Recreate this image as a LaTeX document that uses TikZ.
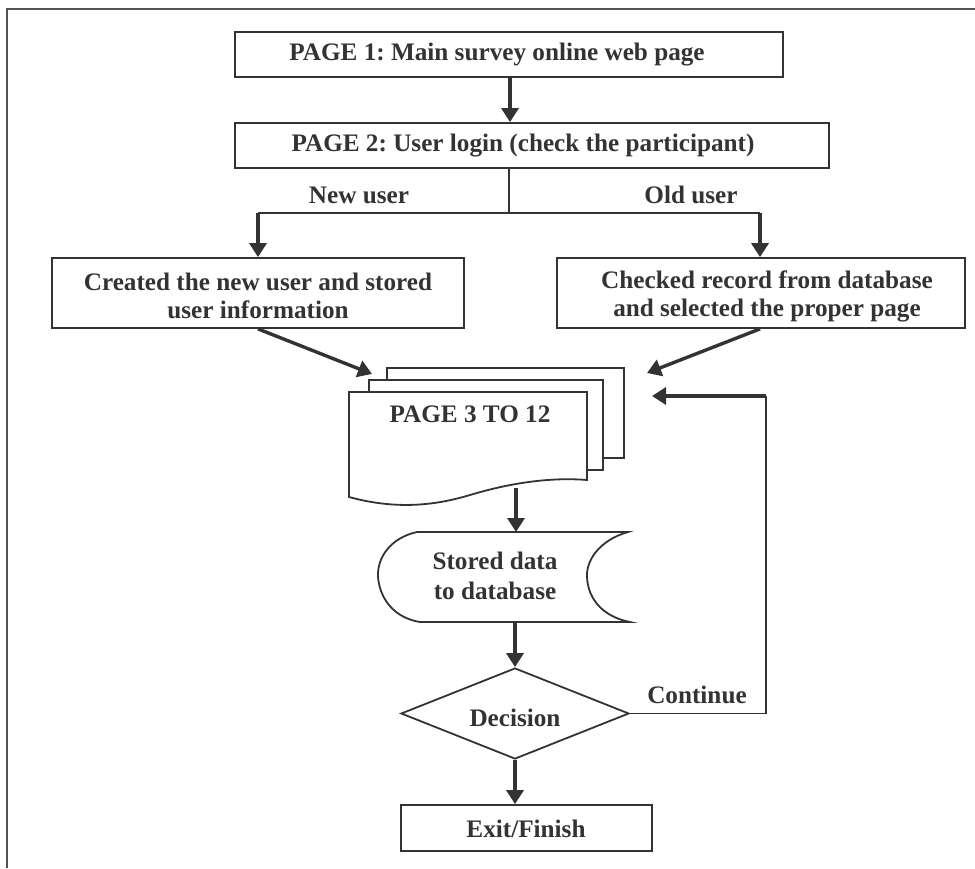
\documentclass[tikz,border=0pt]{standalone}
\usepackage{fontspec}
\setmainfont{Liberation Serif}
\usetikzlibrary{arrows.meta,shapes.geometric}
\definecolor{ink}{RGB}{51,51,51}
\frenchspacing
\begin{document}
\begin{tikzpicture}[x=0.5pt,y=-0.5pt,
  font=\fontsize{12.6pt}{14pt}\selectfont\bfseries,
  box/.style={draw=ink, line width=0.9pt, rectangle, inner sep=0pt, fill=white},
  lbl/.style={text=ink, inner sep=0pt, align=center},
  flow/.style={draw=ink, line width=1.7pt, -{Triangle[length=7pt,width=8.5pt]}},
  link/.style={draw=ink, line width=0.9pt},
  sheet/.style={draw=ink, line width=0.9pt, fill=white}]
\useasboundingbox (0,0) rectangle (975,868);

% outer frame
\draw[draw=ink!85, line width=1pt] (7,868) -- (7,9) -- (975,9);

% page 1 and page 2 boxes
\node[box, minimum width=274pt, minimum height=22.5pt] (p1) at (509,54.5) {};
\node[lbl] (p1t) at (497,55) {PAGE 1: Main survey online web page};
\node[box, minimum width=297pt, minimum height=22.5pt] (p2) at (532,145.5) {};
\node[lbl] (p2t) at (523,146) {PAGE 2: User login (check the participant)};

% branch boxes
\node[box, minimum width=206pt, minimum height=35pt] (nu) at (258,293) {};
\node[lbl] (nut) at (258,296) {Created the new user and stored\\user information};
\node[box, minimum width=204pt, minimum height=35pt] (ou) at (761,293) {};
\node[lbl] (out) at (767,296) {Checked record from database\\and selected the proper page};

\node[lbl] (newl) at (359,195) {New user};
\node[lbl] (oldl) at (691,195) {Old user};

% stack of pages 3 to 12
\draw[sheet] (387,368) rectangle (624,458);
\draw[sheet] (369,380) rectangle (603,470);
\draw[sheet] (349,392) -- (587,392) -- (587,480)
  .. controls (550,477) and (510,483) .. (470,495)
  .. controls (440,504) and (400,511) .. (349,497) -- cycle;
\node[lbl] (pg) at (470,414) {PAGE 3 TO 12};
\coordinate (stackL) at (372,374);
\coordinate (stackR) at (647,373);
\coordinate (stackLoop) at (652,396);
\coordinate (stackOut) at (516,488);

% stored data symbol
\draw[sheet] (417,532) -- (628,532)
  .. controls (600,540) and (586,560) .. (587,577)
  .. controls (588,600) and (604,617) .. (630,622)
  -- (420,622)
  .. controls (395,618) and (380,600) .. (378,577)
  .. controls (377,558) and (390,538) .. (417,532) -- cycle;
\coordinate (sdTop) at (516,532);
\coordinate (sdBot) at (515,622);
\node[lbl] (sdt) at (495,576) {Stored data\\[1pt]to database};

% decision and exit
\node[draw=ink, line width=0.9pt, diamond, inner sep=0pt, minimum width=114pt,
      minimum height=45.5pt, text=ink] (dec) at (515,713.5) {};
\node[lbl] (dect) at (515,718) {Decision};
\node[box, minimum width=125.5pt, minimum height=23pt] (ex) at (526.5,828) {};
\node[lbl] (ext) at (526,829) {Exit/Finish};
\node[lbl] (cont) at (697,695) {Continue};

% connectors
\draw[flow] (p1.south -| 510,0) -- (p2.north -| 510,0);
\coordinate (split) at (509,213);
\coordinate (splitL) at (258,213);
\coordinate (splitR) at (760,213);
\draw[link] (p2.south -| split) -- (split);
\draw[link] (splitL) -- (splitR);
\draw[flow] (splitL) -- (nu.north -| splitL);
\draw[flow] (splitR) -- (ou.north -| splitR);
\draw[flow] (nu.south) -- (stackL);
\draw[flow] (ou.south -| splitR) -- (stackR);
\draw[flow] (stackOut) -- (sdTop);
\draw[flow] (sdBot) -- (dec.north);
\draw[flow] (dec.south) -- (ex.north -| dec.south);
\coordinate (loopB) at (766,713.5);
\draw[link] (dec.east) -- (loopB) -- (loopB |- stackLoop);
\draw[flow] (loopB |- stackLoop) -- (stackLoop);
\end{tikzpicture}
\end{document}
